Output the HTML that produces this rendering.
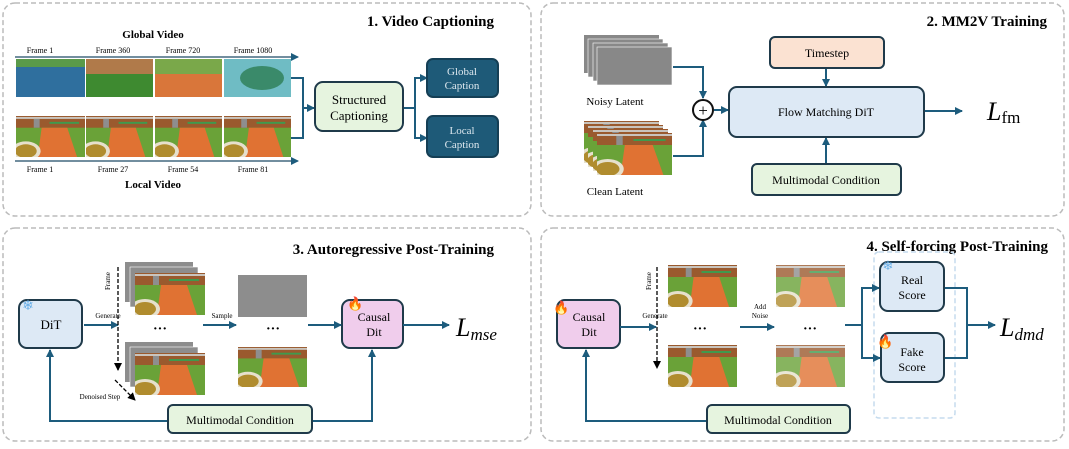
<!DOCTYPE html>
<html><head><meta charset="utf-8"><style>
body{margin:0;background:#fff;}
svg text{font-family:"Liberation Serif",serif;}
</style></head><body>
<svg width="1069" height="444" viewBox="0 0 1069 444" xmlns="http://www.w3.org/2000/svg">
<defs>
<symbol id="loc" viewBox="0 0 70 42" preserveAspectRatio="none">
<rect width="70" height="42" fill="#6aa238"/>
<rect width="70" height="12" fill="#9a5a2e"/>
<rect y="1" width="70" height="2" fill="#c9c4bd"/>
<rect x="18" y="3" width="6" height="9" fill="#8e8e8e"/>
<rect x="34" y="6" width="30" height="2" fill="#3f9a4e"/>
<polygon points="26,12 52,12 62,42 22,42" fill="#e07233"/>
<ellipse cx="10" cy="36" rx="15" ry="10" fill="#e6e0cc"/>
<ellipse cx="10" cy="36" rx="11" ry="7" fill="#b08c2e"/>
</symbol>
<marker id="ah" markerWidth="8" markerHeight="8" refX="7" refY="4" orient="auto" markerUnits="userSpaceOnUse"><path d="M0,0 L8,4 L0,8 z" fill="#1d5c7d"/></marker>
<marker id="bh" markerWidth="8" markerHeight="8" refX="7" refY="4" orient="auto" markerUnits="userSpaceOnUse"><path d="M0,0 L8,4 L0,8 z" fill="#000"/></marker>
</defs>
<g fill="none" stroke="#bbb" stroke-width="1.5" stroke-dasharray="5,3">
<rect x="3" y="3" width="528" height="213" rx="12"/>
<rect x="541" y="3" width="523" height="213" rx="12"/>
<rect x="3" y="228" width="528" height="213" rx="12"/>
<rect x="541" y="228" width="523" height="213" rx="12"/>
</g>
<g font-weight="bold" font-size="15" text-anchor="end">
<text x="494" y="26">1. Video Captioning</text>
<text x="1047" y="26">2. MM2V Training</text>
<text x="494" y="254">3. Autoregressive Post-Training</text>
<text x="1048" y="251">4. Self-forcing Post-Training</text>
</g>
<!-- Panel 1 -->
<text x="153" y="38" font-weight="bold" font-size="11" text-anchor="middle">Global Video</text>
<text x="153" y="188" font-weight="bold" font-size="11" text-anchor="middle">Local Video</text>
<g font-size="8" text-anchor="middle">
<text x="40" y="53">Frame 1</text><text x="113" y="53">Frame 360</text><text x="183" y="53">Frame 720</text><text x="253" y="53">Frame 1080</text>
<text x="40" y="172">Frame 1</text><text x="113" y="172">Frame 27</text><text x="183" y="172">Frame 54</text><text x="253" y="172">Frame 81</text>
</g>
<line x1="15" y1="57" x2="298" y2="57" stroke="#1d4a66" stroke-width="1.2" marker-end="url(#ah)"/>
<line x1="15" y1="161" x2="298" y2="161" stroke="#1d4a66" stroke-width="1.2" marker-end="url(#ah)"/>
<rect x="16" y="59" width="69" height="38" fill="#2f6f9e"/><rect x="16" y="59" width="69" height="8" fill="#5a9a4a"/>
<rect x="86" y="59" width="67" height="38" fill="#3e8a30"/><rect x="86" y="59" width="67" height="15" fill="#b07a4a"/>
<rect x="155" y="59" width="67" height="38" fill="#d9763a"/><rect x="155" y="59" width="67" height="15" fill="#7aa84a"/>
<rect x="224" y="59" width="67" height="38" fill="#6fbcc4"/><ellipse cx="262" cy="78" rx="22" ry="12" fill="#3a8a6a"/>
<use href="#loc" x="16" y="116" width="69" height="41"/><use href="#loc" x="86" y="116" width="67" height="41"/>
<use href="#loc" x="155" y="116" width="67" height="41"/><use href="#loc" x="224" y="116" width="67" height="41"/>
<g stroke="#1d5c7d" stroke-width="2" fill="none">
<polyline points="291,78 303,78 303,138 291,138"/><line x1="303" y1="108" x2="314" y2="108" marker-end="url(#ah)"/>
<line x1="403" y1="108" x2="415" y2="108"/><polyline points="426,78 415,78 415,138 426,138"/>
<line x1="415" y1="78" x2="427" y2="78" marker-end="url(#ah)"/><line x1="415" y1="138" x2="427" y2="138" marker-end="url(#ah)"/>
</g>
<rect x="315" y="82" width="88" height="49" rx="8" fill="#e6f4df" stroke="#1f3a4a" stroke-width="2"/>
<text x="359" y="104" font-size="13" text-anchor="middle">Structured</text><text x="359" y="120" font-size="13" text-anchor="middle">Captioning</text>
<rect x="427" y="59" width="71" height="38" rx="6" fill="#1e5a78" stroke="#153f55" stroke-width="2"/>
<rect x="427" y="116" width="71" height="41" rx="6" fill="#1e5a78" stroke="#153f55" stroke-width="2"/>
<g font-size="11" fill="#dde8ef" text-anchor="middle"><text x="462" y="75">Global</text><text x="462" y="89">Caption</text><text x="462" y="134">Local</text><text x="462" y="148">Caption</text></g>
<!-- Panel 2 -->
<g fill="#888"><rect x="584" y="35" width="75" height="38"/><rect x="588" y="39" width="75" height="38" stroke="#fff" stroke-width="0.6"/><rect x="593" y="43" width="75" height="38" stroke="#fff" stroke-width="0.6"/><rect x="597" y="47" width="75" height="38" stroke="#fff" stroke-width="0.6"/></g>
<use href="#loc" x="584" y="121" width="75" height="42"/><use href="#loc" x="588" y="125" width="75" height="42"/><use href="#loc" x="593" y="129" width="75" height="42"/><use href="#loc" x="597" y="133" width="75" height="42"/>
<text x="615" y="105" font-size="11" text-anchor="middle">Noisy Latent</text><text x="615" y="195" font-size="11" text-anchor="middle">Clean Latent</text>
<g stroke="#1d5c7d" stroke-width="2" fill="none">
<polyline points="673,67 703,67 703,98" marker-end="url(#ah)"/><polyline points="673,156 703,156 703,120" marker-end="url(#ah)"/>
<line x1="714" y1="110" x2="728" y2="110" marker-end="url(#ah)"/>
<line x1="826" y1="68" x2="826" y2="86" marker-end="url(#ah)"/><line x1="826" y1="164" x2="826" y2="138" marker-end="url(#ah)"/>
<line x1="924" y1="111" x2="962" y2="111" marker-end="url(#ah)"/>
</g>
<circle cx="703" cy="110" r="10" fill="#fff" stroke="#111" stroke-width="2"/><text x="703" y="116" font-size="17" text-anchor="middle">+</text>
<rect x="729" y="87" width="195" height="50" rx="8" fill="#dde9f5" stroke="#1f3a4a" stroke-width="2"/><text x="826" y="116" font-size="12" text-anchor="middle">Flow Matching DiT</text>
<rect x="770" y="37" width="114" height="31" rx="5" fill="#fbe2d2" stroke="#1f3a4a" stroke-width="2"/><text x="827" y="57" font-size="12" text-anchor="middle">Timestep</text>
<rect x="752" y="164" width="149" height="31" rx="5" fill="#e6f4df" stroke="#1f3a4a" stroke-width="2"/><text x="826" y="184" font-size="12" text-anchor="middle">Multimodal Condition</text>
<text x="987" y="120" font-size="26" font-style="italic">L<tspan font-size="17" font-style="normal" dy="3">fm</tspan></text>
<!-- Panel 3 -->
<rect x="19" y="300" width="63" height="48" rx="8" fill="#dde9f5" stroke="#1f3a4a" stroke-width="2"/><text x="51" y="329" font-size="13" text-anchor="middle">DiT</text>
<text x="28" y="310" font-size="14" fill="#6ab0e8" text-anchor="middle">❄</text>
<rect x="342" y="300" width="61" height="48" rx="8" fill="#f0cdec" stroke="#1f3a4a" stroke-width="2"/><text x="374" y="321" font-size="12" text-anchor="middle">Causal</text><text x="374" y="336" font-size="12" text-anchor="middle">Dit</text>
<text x="347" y="308" font-size="13" fill="#e8561e">🔥</text>
<text x="108" y="318" font-size="7" text-anchor="middle">Generate</text><text x="222" y="318" font-size="7" text-anchor="middle">Sample</text>
<text x="100" y="399" font-size="7" text-anchor="middle">Denoised Step</text>
<text x="0" y="0" font-size="7" transform="translate(110,290) rotate(-90)">Frame</text>
<g stroke="#1d5c7d" stroke-width="2" fill="none">
<line x1="84" y1="325" x2="118" y2="325" marker-end="url(#ah)"/><line x1="203" y1="325" x2="236" y2="325" marker-end="url(#ah)"/>
<line x1="308" y1="325" x2="341" y2="325" marker-end="url(#ah)"/><line x1="403" y1="325" x2="449" y2="325" marker-end="url(#ah)"/>
<polyline points="168,421 50,421 50,350" marker-end="url(#ah)"/><polyline points="312,421 372,421 372,350" marker-end="url(#ah)"/>
</g>
<g stroke="#000" stroke-width="1.3" stroke-dasharray="4,2" fill="none"><line x1="118" y1="267" x2="118" y2="370" marker-end="url(#bh)"/><line x1="115" y1="380" x2="135" y2="400" marker-end="url(#bh)"/></g>
<rect x="125" y="262" width="68" height="40" fill="#8d8d8d"/><rect x="130" y="267" width="68" height="40" fill="#8d8d8d" stroke="#fff" stroke-width="0.6"/><use href="#loc" x="135" y="273" width="70" height="42"/>
<rect x="125" y="342" width="68" height="40" fill="#8d8d8d"/><rect x="130" y="347" width="68" height="40" fill="#8d8d8d" stroke="#fff" stroke-width="0.6"/><use href="#loc" x="135" y="353" width="70" height="42"/>
<text x="160" y="333" font-size="14" font-weight="bold" text-anchor="middle">···</text><text x="273" y="333" font-size="14" font-weight="bold" text-anchor="middle">···</text>
<rect x="238" y="275" width="69" height="42" fill="#8d8d8d"/><use href="#loc" x="238" y="347" width="69" height="40"/>
<rect x="168" y="405" width="144" height="28" rx="5" fill="#e6f4df" stroke="#1f3a4a" stroke-width="2"/><text x="240" y="424" font-size="12" text-anchor="middle">Multimodal Condition</text>
<text x="456" y="336" font-size="26" font-style="italic">L<tspan font-size="17" dy="4">mse</tspan></text>
<!-- Panel 4 -->
<rect x="557" y="300" width="63" height="48" rx="8" fill="#f0cdec" stroke="#1f3a4a" stroke-width="2"/><text x="589" y="321" font-size="12" text-anchor="middle">Causal</text><text x="589" y="336" font-size="12" text-anchor="middle">Dit</text>
<text x="553" y="312" font-size="13">🔥</text>
<text x="655" y="318" font-size="7" text-anchor="middle">Generate</text>
<text x="0" y="0" font-size="7" transform="translate(651,290) rotate(-90)">Frame</text>
<text x="760" y="309" font-size="7" text-anchor="middle">Add</text><text x="760" y="318" font-size="7" text-anchor="middle">Noise</text>
<line x1="657" y1="267" x2="657" y2="368" stroke="#000" stroke-width="1.3" stroke-dasharray="4,2" marker-end="url(#bh)"/>
<use href="#loc" x="668" y="265" width="69" height="42"/><use href="#loc" x="668" y="345" width="69" height="42"/>
<g opacity="0.8"><use href="#loc" x="776" y="265" width="69" height="42"/><use href="#loc" x="776" y="345" width="69" height="42"/></g>
<text x="700" y="333" font-size="14" font-weight="bold" text-anchor="middle">···</text><text x="810" y="333" font-size="14" font-weight="bold" text-anchor="middle">···</text>
<rect x="874" y="252" width="81" height="166" rx="5" fill="none" stroke="#c5dbee" stroke-width="1.5" stroke-dasharray="5,3"/>
<g stroke="#1d5c7d" stroke-width="2" fill="none">
<line x1="620" y1="327" x2="656" y2="327" marker-end="url(#ah)"/><line x1="740" y1="327" x2="774" y2="327" marker-end="url(#ah)"/>
<polyline points="845,325 862,325 862,288 879,288" marker-end="url(#ah)"/><polyline points="862,325 862,358 880,358" marker-end="url(#ah)"/>
<polyline points="944,288 967,288 967,358 944,358"/><line x1="967" y1="325" x2="995" y2="325" marker-end="url(#ah)"/>
<polyline points="707,421 586,421 586,350" marker-end="url(#ah)"/>
</g>
<rect x="880" y="262" width="64" height="49" rx="8" fill="#dde9f5" stroke="#1f3a4a" stroke-width="2"/><text x="912" y="284" font-size="12" text-anchor="middle">Real</text><text x="912" y="299" font-size="12" text-anchor="middle">Score</text>
<rect x="881" y="333" width="63" height="49" rx="8" fill="#dde9f5" stroke="#1f3a4a" stroke-width="2"/><text x="912" y="356" font-size="12" text-anchor="middle">Fake</text><text x="912" y="371" font-size="12" text-anchor="middle">Score</text>
<text x="888" y="270" font-size="13" fill="#6ab0e8" text-anchor="middle">❄</text><text x="877" y="346" font-size="13">🔥</text>
<rect x="707" y="405" width="143" height="28" rx="5" fill="#e6f4df" stroke="#1f3a4a" stroke-width="2"/><text x="778" y="424" font-size="12" text-anchor="middle">Multimodal Condition</text>
<text x="1000" y="336" font-size="26" font-style="italic">L<tspan font-size="17" dy="4">dmd</tspan></text>
</svg>
</body></html>
